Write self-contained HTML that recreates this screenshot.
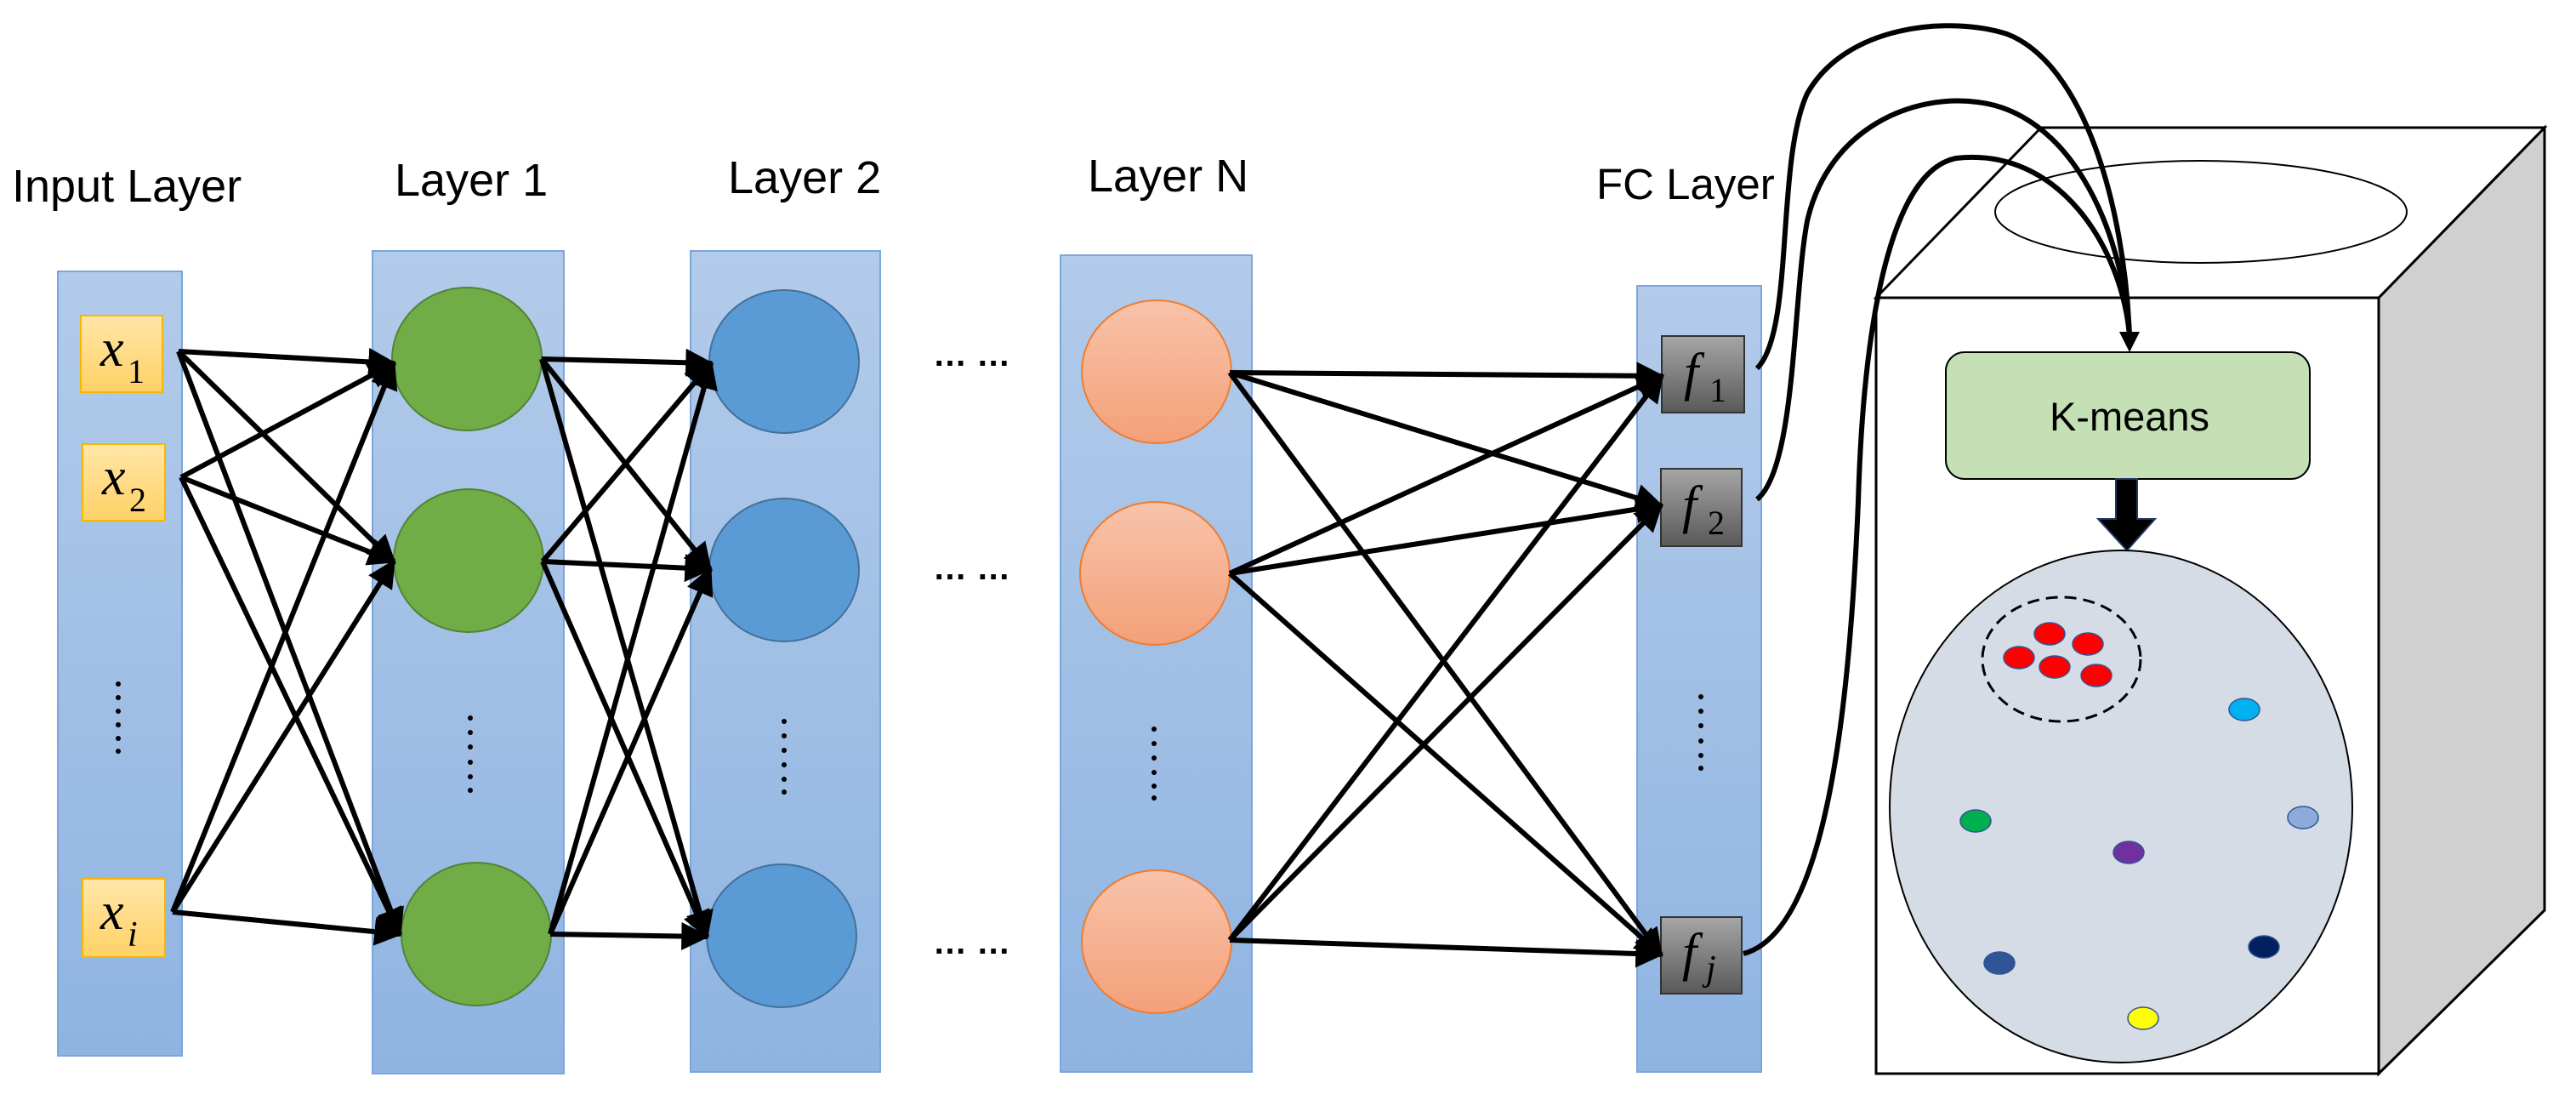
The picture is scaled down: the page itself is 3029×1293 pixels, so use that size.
<!DOCTYPE html>
<html><head><meta charset="utf-8"><style>
html,body{margin:0;padding:0;background:#fff}
svg{display:block}
.lbl{font-family:"Liberation Sans",sans-serif;font-size:54px;fill:#000}
.m{font-family:"Liberation Serif",serif;font-style:italic;font-size:62px;fill:#000}
.s{font-family:"Liberation Serif",serif;font-size:40px;fill:#000}
.e{stroke:#000;stroke-width:6;fill:none;marker-end:url(#ah)}
.dot{font-family:"Liberation Sans",sans-serif;font-size:40px;font-weight:bold;fill:#000}
</style></head><body>
<svg width="3029" height="1293" viewBox="0 0 3029 1293" xmlns="http://www.w3.org/2000/svg">
<defs>
<linearGradient id="lay" x1="0" y1="0" x2="0" y2="1"><stop offset="0" stop-color="#b3cbea"/><stop offset="1" stop-color="#8fb4e2"/></linearGradient>
<linearGradient id="or" x1="0" y1="0" x2="0" y2="1"><stop offset="0" stop-color="#f8c3aa"/><stop offset="1" stop-color="#f4a078"/></linearGradient>
<linearGradient id="xb" x1="0" y1="0" x2="0" y2="1"><stop offset="0" stop-color="#ffe6a8"/><stop offset="1" stop-color="#ffd166"/></linearGradient>
<linearGradient id="fb" x1="0" y1="0" x2="0" y2="1"><stop offset="0" stop-color="#a6a6a6"/><stop offset="1" stop-color="#595959"/></linearGradient>
<marker id="ah" viewBox="0 0 10 10" refX="9" refY="5" markerWidth="5.5" markerHeight="5.5" orient="auto" markerUnits="strokeWidth"><path d="M0,0 L10,5 L0,10 z" fill="#000"/></marker>
</defs>

<text class="lbl" x="14" y="237">Input Layer</text>
<text class="lbl" x="464" y="230">Layer 1</text>
<text class="lbl" x="856" y="227">Layer 2</text>
<text class="lbl" x="1279" y="225">Layer N</text>
<text class="lbl" x="1877" y="234" style="font-size:51px">FC Layer</text>

<rect x="68" y="319" width="146" height="922" fill="url(#lay)" stroke="#7aa6dc" stroke-width="2"/>
<rect x="438" y="295" width="225" height="967" fill="url(#lay)" stroke="#7aa6dc" stroke-width="2"/>
<rect x="812" y="295" width="223" height="965" fill="url(#lay)" stroke="#7aa6dc" stroke-width="2"/>
<rect x="1247" y="300" width="225" height="960" fill="url(#lay)" stroke="#7aa6dc" stroke-width="2"/>
<rect x="1925" y="336" width="146" height="924" fill="url(#lay)" stroke="#7aa6dc" stroke-width="2"/>

<rect x="95" y="371" width="96" height="90" fill="url(#xb)" stroke="#f5b800" stroke-width="2"/>
<text class="m" x="118" y="430">x</text><text class="s" x="150" y="450">1</text>
<rect x="97" y="522" width="97" height="90" fill="url(#xb)" stroke="#f5b800" stroke-width="2"/>
<text class="m" x="120" y="581">x</text><text class="s" x="152" y="601">2</text>
<rect x="97" y="1033" width="97" height="92" fill="url(#xb)" stroke="#f5b800" stroke-width="2"/>
<text class="m" x="118" y="1092">x</text><text class="m" x="150" y="1112" style="font-size:42px">i</text>

<g fill="#000">
<circle cx="139" cy="804" r="3"/><circle cx="139" cy="820" r="3"/><circle cx="139" cy="836" r="3"/><circle cx="139" cy="852" r="3"/><circle cx="139" cy="868" r="3"/><circle cx="139" cy="883" r="3"/>
<circle cx="553" cy="844" r="3"/><circle cx="553" cy="861" r="3"/><circle cx="553" cy="878" r="3"/><circle cx="553" cy="896" r="3"/><circle cx="553" cy="913" r="3"/><circle cx="553" cy="929" r="3"/>
<circle cx="922" cy="848" r="3"/><circle cx="922" cy="865" r="3"/><circle cx="922" cy="882" r="3"/><circle cx="922" cy="899" r="3"/><circle cx="922" cy="916" r="3"/><circle cx="922" cy="931" r="3"/>
<circle cx="1357" cy="857" r="3"/><circle cx="1357" cy="874" r="3"/><circle cx="1357" cy="891" r="3"/><circle cx="1357" cy="908" r="3"/><circle cx="1357" cy="924" r="3"/><circle cx="1357" cy="938" r="3"/>
<circle cx="2000" cy="819" r="3"/><circle cx="2000" cy="836" r="3"/><circle cx="2000" cy="853" r="3"/><circle cx="2000" cy="871" r="3"/><circle cx="2000" cy="888" r="3"/><circle cx="2000" cy="903" r="3"/>
</g>
<text class="dot" x="1097" y="430">… …</text>
<text class="dot" x="1097" y="681">… …</text>
<text class="dot" x="1097" y="1121">… …</text>

<g stroke="#548235" stroke-width="2" fill="#70ad47">
<ellipse cx="549" cy="422" rx="88" ry="84"/><ellipse cx="551" cy="659" rx="88" ry="84"/><ellipse cx="560" cy="1098" rx="88" ry="84"/>
</g>
<g stroke="#41719c" stroke-width="2" fill="#5b9bd5">
<ellipse cx="922" cy="425" rx="88" ry="84"/><ellipse cx="922" cy="670" rx="88" ry="84"/><ellipse cx="919" cy="1100" rx="88" ry="84"/>
</g>
<g stroke="#ed7d31" stroke-width="2" fill="url(#or)">
<ellipse cx="1360" cy="437" rx="88" ry="84"/><ellipse cx="1358" cy="674" rx="88" ry="84"/><ellipse cx="1360" cy="1107" rx="88" ry="84"/>
</g>

<rect x="1954" y="395" width="97" height="90" fill="url(#fb)" stroke="#333" stroke-width="2"/>
<text class="m" x="1980" y="458">f</text><text class="s" x="2010" y="472">1</text>
<rect x="1953" y="551" width="95" height="91" fill="url(#fb)" stroke="#333" stroke-width="2"/>
<text class="m" x="1978" y="614">f</text><text class="s" x="2008" y="628">2</text>
<rect x="1953" y="1078" width="95" height="90" fill="url(#fb)" stroke="#333" stroke-width="2"/>
<text class="m" x="1978" y="1140">f</text><text class="m" x="2006" y="1152" style="font-size:42px">j</text>

<g>
<line class="e" x1="210" y1="413" x2="463" y2="427"/>
<line class="e" x1="210" y1="413" x2="463" y2="660"/>
<line class="e" x1="210" y1="413" x2="470" y2="1098"/>
<line class="e" x1="213" y1="561" x2="463" y2="427"/>
<line class="e" x1="213" y1="561" x2="463" y2="660"/>
<line class="e" x1="213" y1="561" x2="470" y2="1098"/>
<line class="e" x1="203" y1="1072" x2="463" y2="427"/>
<line class="e" x1="203" y1="1072" x2="463" y2="660"/>
<line class="e" x1="203" y1="1072" x2="470" y2="1098"/>
</g>
<g>
<line class="e" x1="637" y1="422" x2="836" y2="427"/>
<line class="e" x1="637" y1="422" x2="835" y2="669"/>
<line class="e" x1="637" y1="422" x2="831" y2="1101"/>
<line class="e" x1="638" y1="660" x2="836" y2="427"/>
<line class="e" x1="638" y1="660" x2="835" y2="669"/>
<line class="e" x1="638" y1="660" x2="831" y2="1101"/>
<line class="e" x1="647" y1="1098" x2="836" y2="427"/>
<line class="e" x1="647" y1="1098" x2="835" y2="669"/>
<line class="e" x1="647" y1="1098" x2="831" y2="1101"/>
</g>
<g>
<line class="e" x1="1446" y1="438" x2="1954" y2="442"/>
<line class="e" x1="1446" y1="438" x2="1953" y2="594"/>
<line class="e" x1="1446" y1="438" x2="1953" y2="1122"/>
<line class="e" x1="1446" y1="674" x2="1954" y2="442"/>
<line class="e" x1="1446" y1="674" x2="1953" y2="594"/>
<line class="e" x1="1446" y1="674" x2="1953" y2="1122"/>
<line class="e" x1="1446" y1="1105" x2="1954" y2="442"/>
<line class="e" x1="1446" y1="1105" x2="1953" y2="594"/>
<line class="e" x1="1446" y1="1105" x2="1953" y2="1122"/>
</g>

<polygon points="2797,350 2992,150 2992,1070 2797,1262" fill="#d0d0d0" stroke="#000" stroke-width="3"/>
<polygon points="2206,350 2400,150 2992,150 2797,350" fill="#fff" stroke="#000" stroke-width="3"/>
<rect x="2206" y="350" width="591" height="912" fill="#fff" stroke="#000" stroke-width="3"/>
<ellipse cx="2588" cy="249" rx="242" ry="60" fill="none" stroke="#000" stroke-width="2"/>

<rect x="2288" y="414" width="428" height="149" rx="22" fill="#c5e0b4" stroke="#000" stroke-width="2"/>
<text x="2504" y="506" text-anchor="middle" style="font-family:'Liberation Sans',sans-serif;font-size:47px">K-means</text>

<polygon points="2488,563 2513,563 2513,610 2534,610 2501,647 2467,610 2488,610" fill="#000" stroke="#1f3864" stroke-width="2"/>

<ellipse cx="2494" cy="948" rx="272" ry="301" fill="#d6dce5" stroke="#000" stroke-width="2"/>
<ellipse cx="2424" cy="775" rx="93" ry="73" fill="none" stroke="#000" stroke-width="3" stroke-dasharray="14,8"/>
<g stroke="#2f5597" stroke-width="1.5">
<ellipse cx="2410" cy="745" rx="18" ry="13" fill="#ff0000"/>
<ellipse cx="2455" cy="757" rx="18" ry="13" fill="#ff0000"/>
<ellipse cx="2374" cy="773" rx="18" ry="13" fill="#ff0000"/>
<ellipse cx="2416" cy="784" rx="18" ry="13" fill="#ff0000"/>
<ellipse cx="2465" cy="794" rx="18" ry="13" fill="#ff0000"/>
<ellipse cx="2639" cy="834" rx="18" ry="13" fill="#00b0f0"/>
<ellipse cx="2323" cy="965" rx="18" ry="13" fill="#00b050"/>
<ellipse cx="2708" cy="961" rx="18" ry="13" fill="#8eaadb"/>
<ellipse cx="2503" cy="1002" rx="18" ry="13" fill="#7030a0"/>
<ellipse cx="2351" cy="1132" rx="18" ry="13" fill="#2f5597"/>
<ellipse cx="2662" cy="1113" rx="18" ry="13" fill="#002060"/>
<ellipse cx="2520" cy="1197" rx="18" ry="13" fill="#ffff00"/>
</g>

<g fill="none" stroke="#000" stroke-width="6">
<path d="M2066,433 C2110,390 2088,190 2125,110 C2170,30 2290,18 2360,40 C2450,75 2498,240 2504,395"/>
<path d="M2066,587 C2112,550 2108,350 2125,260 C2150,150 2250,110 2325,120 C2430,132 2495,260 2504,395"/>
<path d="M2050,1121 C2150,1095 2175,820 2185,590 C2192,350 2230,200 2300,186 C2420,172 2495,290 2504,395"/>
</g>
<polygon points="2492,390 2516,390 2504,414" fill="#000"/>
</svg>
</body></html>
